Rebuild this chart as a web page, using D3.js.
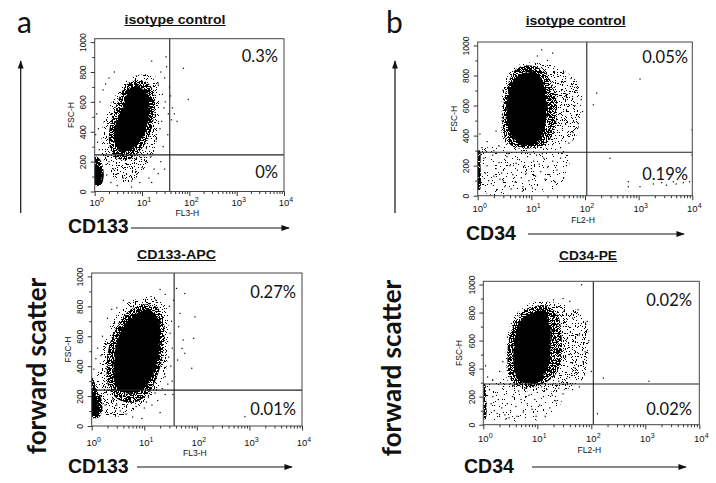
<!DOCTYPE html>
<html>
<head>
<meta charset="utf-8">
<script src="https://cdnjs.cloudflare.com/ajax/libs/d3/7.8.5/d3.min.js"></script>
<style>
  body { margin: 0; background: #fff; }
  svg { display: block; }
  text { font-family: "Liberation Sans", Arial, sans-serif; fill: #111; }
</style>
</head>
<body>
<svg id="fig" width="716" height="483"></svg>
<script>
// values: FL channel (log 1..10^4) and FSC-H (0..1023)
var decades = [1, 10, 100, 1000, 10000];
var decadeExp = ["0", "1", "2", "3", "4"];
var logMinor = [2, 3, 4, 5, 6, 7, 8, 9, 20, 30, 40, 50, 60, 70, 80, 90,
    200, 300, 400, 500, 600, 700, 800, 900, 2000, 3000, 4000, 5000, 6000, 7000, 8000, 9000];
var fscTicks = [0, 200, 400, 600, 800, 1000];
var fscMinor = [100, 300, 500, 700, 900];

// a, isotype control (FL3)
var a1Gate = [38.5, 245];
var a1Pct = ["0.3%", "0%"];
var a1Spread = [[8.2,778],[18.5,773],[23.6,684],[23.6,528],[21.8,394],[18.5,282],[13.4,193],[8.2,104],[5.1,59],[3.1,70],[1.9,148],[1.4,260],[1.4,371],[1.6,483],[2.25,595],[3.4,684],[5.1,751]];
var a1Halo = [[6,740],[12,735],[17,680],[19,570],[17,460],[14,360],[10,290],[6.5,230],[4,210],[2.4,250],[2,340],[2.1,440],[2.6,540],[3.3,630],[4.3,700]];
var a1Core = [[5.9,703],[10.5,692],[13.4,648],[14.5,570],[13.4,481],[12.4,414],[10.5,370],[8.2,326],[5.9,281],[4.0,270],[2.9,292],[2.6,348],[2.6,414],[3.1,481],[3.7,548],[4.3,614],[4.9,670]];
var a1Debris = [[1,235],[1.3,215],[1.5,160],[1.55,100],[1.4,50],[1.1,35],[1,40]];
var a1DebrisCore = [[1,170],[1.25,165],[1.4,110],[1.35,65],[1.15,50],[1,55]];
var a1Dots = [[16,873],[32,902],[33,835],[75,825],[95,617],[40,640],[44,560],[48,520],[42,480],[55,470],
  [38,700],[30,760],[25,800],[22,720],[27,650],[29,560],[26,470],[24,420],[20,350],[28,300],
  [35,380],[31,600],[36,520],
  [1.2,420],[1.1,520],[1.3,600],[1.5,680],[1.7,720],[1.15,330],[1.25,280],[1.05,380],[2,760],[2.6,800],
  [2,200],[2.5,150],[3,120],[4,90],[6,70],[8,120],[10,160],[12,200],[15,230],[18,150],[22,120],
  [14,90],[6,30],[3,40],[1.8,110],[9,60],[25,200],[5,180],[7,220],[11,240],[1.7,240],[2.2,60],[16,60],[30,150]];

// b, isotype control (FL2)
var b1Gate = [108, 289];
var b1Pct = ["0.05%", "0.19%"];
var b1Spread = [[7.1,882],[14.5,882],[34,849],[81,727],[81,527],[61,371],[26,338],[12.6,305],[4.6,305],[3,371],[2.8,549],[3,727],[4.3,838]];
var b1Halo = [[5.5,850],[12,860],[20,800],[28,680],[30,540],[26,420],[18,340],[10,315],[5,320],[3.3,380],[2.9,500],[3.1,640],[3.8,760]];
var b1Core = [[6.1,805],[10.9,827],[15.6,771],[18.8,660],[19.3,549],[17.2,438],[13.5,360],[8.8,331],[5.7,345],[4.1,405],[3.47,505],[3.47,616],[3.89,716],[4.6,771]];
var b1Low = [[1,290],[45,290],[50,180],[30,50],[8,25],[1.3,25]];
var b1Debris = [[1,300],[1.1,300],[1.13,200],[1.15,100],[1.1,40],[1,40]];
var b1Dots = [[165,683],[1060,776],[143,605],[9900,438],
  [292,249],[641,93],[641,60],[1060,60],[1880,78],[2690,87],[4430,93],[5000,78],[6800,87],[8900,93],[9900,270],[3300,70],
  [15.6,971],[25,949],[13,930],[20,900],[40,820],[55,780],[70,700],[85,640],[90,560],[75,480],[60,420],[50,350],
  [35,320],[45,660],[1.2,320],[1.5,360],[2,300],[1.1,410],[2.2,430],[2.5,330],[65,600],[38,760],
  [1.3,250],[1.5,200],[1.4,150],[1.6,100],[1.8,80],[2,130],[2.2,180],[2.5,220],[2.8,150],[3,100],
  [3.2,60],[3.5,260],[4,200],[4.5,140],[5,90],[5.5,170],[6,240],[6.5,120],[7,60],[7.5,200],
  [8,150],[8.5,260],[9,100],[10,180],[11,230],[12,130],[13,70],[14,210],[15,160],[17,250],
  [18,110],[20,190],[22,140],[25,230],[28,90],[30,170],[35,250],[40,120],[45,200],[2.3,40],
  [4.2,45],[6.8,30],[1.9,270],[3.7,280],[9.5,275],[12.5,270],[16,280],[2.6,110],[5.2,215],[10.5,50]];

// a, CD133-APC
var a2Gate = [37, 240];
var a2Pct = ["0.27%", "0.01%"];
var a2Spread = [[8.3,853],[17.2,864],[26.6,797],[28.6,597],[26.6,396],[19.9,263],[11.1,174],[6.2,107],[3,62],[1.66,85],[1.24,174],[1.24,307],[1.44,441],[1.79,574],[2.58,708],[4.6,819]];
var a2Halo = [[7,800],[14,810],[22,750],[24,600],[22,450],[17,320],[12,220],[7,160],[3.5,170],[2.2,240],[1.9,380],[2.1,520],[2.8,650],[4.2,740]];
var a2Core = [[7.2,753],[12.8,775],[18.5,719],[19.9,597],[18.5,463],[14.9,352],[10.3,263],[6.2,218],[3.7,229],[2.77,285],[2.58,396],[2.77,508],[3.45,619],[4.6,697]];
var a2Debris = [[1,330],[1.1,310],[1.25,240],[1.5,190],[1.6,120],[1.45,65],[1.15,50],[1,60]];
var a2DebrisCore = [[1,220],[1.2,210],[1.35,150],[1.35,90],[1.15,70],[1,75]];
var a2Dots = [[41,920],[59,886],[48,753],[92,730],[45,664],[55,575],[87,586],[59,486],[80,386],[43,441],[52,519],
  [20,913],[16.5,842],[25,880],[30,800],[33,700],[31,620],[34,520],[29,460],[32,400],[25,330],[28,280],
  [35,210],[36,840],[34,300],
  [820,62],
  [2,240],[2.5,180],[3,140],[3.5,100],[4,200],[5,160],[6,60],[7,130],[8,180],[10,120],[12,200],[14,140],
  [16,220],[20,90],[25,210],[1.8,140],[4.5,80],[9,50],[11,160],[13,235],[18,170],[22,250],
  [1.3,520],[1.6,600],[2,720],[2.4,780],[1.2,450],[3,790],[1.1,380],[4,840],[1.5,470]];

// b, CD34-PE
var b2Gate = [109, 290];
var b2Pct = ["0.02%", "0.02%"];
var b2Spread = [[9.7,880],[22.8,868],[46.5,832],[82,713],[88,500],[71,333],[40,262],[19.8,238],[6.4,238],[3.1,274],[2.7,404],[2.7,595],[3.6,761],[5.9,844]];
var b2Halo = [[7.5,840],[15,850],[24,780],[28,640],[28,480],[22,360],[14,300],[8,270],[4.2,280],[3,350],[2.8,480],[3,620],[4,740],[5.5,810]];
var b2Core = [[7.9,797],[12.9,820],[16.7,737],[17.7,595],[16.7,452],[13.9,357],[9.7,297],[6.4,290],[4.5,321],[3.7,404],[3.6,523],[3.9,642],[4.8,725],[5.9,773]];
var b2Low = [[1,290],[25,290],[28,160],[12,40],[2,30],[1,40]];
var b2Debris = [[1,290],[1.08,290],[1.12,200],[1.15,100],[1.1,40],[1,40]];
var b2Dots = [[167,333],[1170,310],[130,78],
  [66,999],[57,820],[84,737],[77,520],[50,404],[40,880],[30,900],[60,640],[45,760],[90,600],[70,450],
  [35,330],[25,310],[20,890],[100,380],[1.2,340],[1.5,320],[2,380],[2.3,450],[1.1,420],
  [1.3,250],[1.5,200],[1.4,150],[1.6,100],[1.8,80],[2,60],[2.2,120],[2.5,70],[2.8,150],[3,50],
  [3.2,100],[3.5,200],[4,130],[4.5,240],[5,180],[5.5,90],[6,260],[6.5,150],[7,210],[8,110],
  [8.5,270],[9,180],[10,230],[11,140],[12,270],[13,200],[15,250],[17,120],[19,210],[22,170],
  [25,260],[2.6,40],[4.2,60],[1.9,180],[3.7,280],[14,60],[30,220],[45,250],[60,270],[9.5,60]];

var panels = [
  {id: "a1", left: 94.7, right: 284, top: 38.7, bottom: 191.5,
   title: "isotype control", titleX: 175, titleY: 23.5, titleW: 101,
   fl: "FL3-H", tickBase: 206, flBase: 216, gate: a1Gate, pct: a1Pct, pctX: 278, pctY: [61.5, 178],
   layers: [[a1Spread, "lo"], [a1Halo, "mid"], [a1Core, "solid"], [a1Debris, "hi"], [a1DebrisCore, "solid"]],
   dots: a1Dots},
  {id: "b1", left: 477.7, right: 692.3, top: 42, bottom: 195.7,
   title: "isotype control", titleX: 575.7, titleY: 24.5, titleW: 100,
   fl: "FL2-H", tickBase: 212, flBase: 223, gate: b1Gate, pct: b1Pct, pctX: 688, pctY: [63, 180],
   layers: [[b1Low, "vlo"], [b1Spread, "lo"], [b1Halo, "mid"], [b1Core, "solid"], [b1Debris, "hi"]],
   dots: b1Dots},
  {id: "a2", left: 91.7, right: 302, top: 273, bottom: 426,
   title: "CD133-APC", titleX: 176.5, titleY: 258.5, titleW: 79,
   fl: "FL3-H", tickBase: 446, flBase: 456, gate: a2Gate, pct: a2Pct, pctX: 296, pctY: [298, 415],
   layers: [[a2Spread, "lo"], [a2Halo, "mid"], [a2Core, "solid"], [a2Debris, "hi"], [a2DebrisCore, "solid"]],
   dots: a2Dots},
  {id: "b2", left: 483.3, right: 699.3, top: 281.3, bottom: 424.7,
   title: "CD34-PE", titleX: 588, titleY: 259.5, titleW: 58,
   fl: "FL2-H", tickBase: 442, flBase: 453, gate: b2Gate, pct: b2Pct, pctX: 692, pctY: [306, 415],
   layers: [[b2Low, "vlo"], [b2Spread, "lo"], [b2Halo, "mid"], [b2Core, "solid"], [b2Debris, "hi"]],
   dots: b2Dots}
];

var svg = d3.select("#fig");
var defs = svg.append("defs");

// arrow head
defs.append("marker").attr("id", "head")
    .attr("viewBox", "0 0 10 10").attr("refX", 9).attr("refY", 5)
    .attr("markerWidth", 7).attr("markerHeight", 7).attr("orient", "auto")
  .append("path").attr("d", "M0,1.5L10,5L0,8.5Z").attr("fill", "#111");

// speckle textures for the dot clouds
function makeSpeckle(id, threshold) {
    var f = defs.append("filter").attr("id", id)
        .attr("filterUnits", "userSpaceOnUse")
        .attr("x", 0).attr("y", 0).attr("width", 716).attr("height", 483)
        .attr("color-interpolation-filters", "sRGB");
    f.append("feTurbulence").attr("type", "fractalNoise")
        .attr("baseFrequency", 0.9).attr("numOctaves", 2).attr("seed", 4).attr("result", "noise");
    f.append("feColorMatrix").attr("in", "noise").attr("type", "matrix")
        .attr("values", "0 0 0 0 0  0 0 0 0 0  0 0 0 0 0  1 0 0 0 0").attr("result", "a");
    var table = d3.range(50).map(function(i) { return i / 50 >= threshold ? 1 : 0; }).join(" ");
    f.append("feComponentTransfer").attr("in", "a").attr("result", "m")
        .append("feFuncA").attr("type", "discrete").attr("tableValues", table);
    f.append("feComposite").attr("in", "m").attr("in2", "SourceGraphic").attr("operator", "in");
}
makeSpeckle("vlo", 0.69);
makeSpeckle("lo", 0.62);
makeSpeckle("mid", 0.46);
makeSpeckle("hi", 0.40);

// ragged edge for the solid cores
var rough = defs.append("filter").attr("id", "rough")
    .attr("x", "-10%").attr("y", "-10%").attr("width", "120%").attr("height", "120%");
rough.append("feTurbulence").attr("type", "fractalNoise")
    .attr("baseFrequency", 0.35).attr("numOctaves", 2).attr("seed", 9).attr("result", "t");
rough.append("feDisplacementMap").attr("in", "SourceGraphic").attr("in2", "t")
    .attr("scale", 5).attr("xChannelSelector", "R").attr("yChannelSelector", "G");

function drawPanel(p) {
    var x = d3.scaleLog().domain([1, 10000]).range([p.left, p.right]);
    var y = d3.scaleLinear().domain([0, 1023]).range([p.bottom, p.top]);
    var g = svg.append("g").attr("class", "panel " + p.id);

    defs.append("clipPath").attr("id", "clip-" + p.id)
      .append("rect").attr("x", p.left).attr("y", p.top)
        .attr("width", p.right - p.left).attr("height", p.bottom - p.top);

    var plot = g.append("g").attr("clip-path", "url(#clip-" + p.id + ")");

    var blob = d3.line()
        .x(function(d) { return x(d[0]); })
        .y(function(d) { return y(d[1]); })
        .curve(d3.curveCatmullRomClosed);

    p.layers.forEach(function(l) {
        var path = plot.append("path").attr("d", blob(l[0])).attr("fill", "#000");
        path.attr("filter", l[1] == "solid" ? "url(#rough)" : "url(#" + l[1] + ")");
    });

    plot.selectAll("rect.dot")
        .data(p.dots)
        .join("rect")
        .attr("class", "dot")
        .attr("x", function(d) { return x(d[0]) - 0.6; })
        .attr("y", function(d) { return y(d[1]) - 0.6; })
        .attr("width", 1.2).attr("height", 1.2)
        .attr("fill", "#000");

    // quadrant gate
    g.append("line")
        .attr("x1", x(p.gate[0])).attr("x2", x(p.gate[0]))
        .attr("y1", p.top).attr("y2", p.bottom)
        .attr("stroke", "#222").attr("stroke-width", 1.1);
    g.append("line")
        .attr("x1", p.left).attr("x2", p.right)
        .attr("y1", y(p.gate[1])).attr("y2", y(p.gate[1]))
        .attr("stroke", "#222").attr("stroke-width", 1.1);

    g.append("rect")
        .attr("x", p.left).attr("y", p.top)
        .attr("width", p.right - p.left).attr("height", p.bottom - p.top)
        .attr("fill", "none").attr("stroke", "#444").attr("stroke-width", 1);

    // y axis
    var yAxis = g.append("g").attr("transform", "translate(" + p.left + ",0)")
        .call(d3.axisLeft(y).tickValues(fscTicks).tickSize(4).tickPadding(0).tickFormat(d3.format("d")));
    yAxis.select(".domain").remove();
    yAxis.selectAll("line").attr("stroke", "#333");
    yAxis.selectAll("text")
        .attr("transform", "rotate(-90)")
        .attr("x", 0).attr("y", -8.5).attr("dy", null)
        .attr("text-anchor", "middle")
        .style("font-size", "8.5px").style("font-family", "Liberation Sans, Arial, sans-serif");
    var yMinor = g.append("g").attr("transform", "translate(" + p.left + ",0)")
        .call(d3.axisLeft(y).tickValues(fscMinor).tickSize(2.5).tickFormat(""));
    yMinor.select(".domain").remove();
    yMinor.selectAll("line").attr("stroke", "#333");

    g.append("text")
        .attr("transform", "translate(" + (p.left - 21) + "," + ((p.top + p.bottom) / 2) + ") rotate(-90)")
        .attr("text-anchor", "middle")
        .style("font-size", "8.5px")
        .text("FSC-H");

    // x axis (log)
    var xAxis = g.append("g").attr("transform", "translate(0," + p.bottom + ")")
        .call(d3.axisBottom(x).tickValues(decades).tickSize(4.5).tickFormat(""));
    xAxis.select(".domain").remove();
    xAxis.selectAll("line").attr("stroke", "#333");
    var xMinor = g.append("g").attr("transform", "translate(0," + p.bottom + ")")
        .call(d3.axisBottom(x).tickValues(logMinor).tickSize(2.5).tickFormat(""));
    xMinor.select(".domain").remove();
    xMinor.selectAll("line").attr("stroke", "#333");

    var lab = g.selectAll("text.dec")
        .data(decades)
        .join("text")
        .attr("class", "dec")
        .attr("x", function(d) { return x(d) + 2; })
        .attr("y", p.tickBase)
        .attr("text-anchor", "middle")
        .style("font-size", "9.5px");
    lab.append("tspan").text("10");
    lab.append("tspan").attr("dy", -4).style("font-size", "7px")
        .text(function(d, i) { return decadeExp[i]; });

    g.append("text")
        .attr("x", (p.left + p.right) / 2 - 2).attr("y", p.flBase)
        .attr("text-anchor", "middle")
        .style("font-size", "8.5px")
        .text(p.fl);

    // title
    g.append("text")
        .attr("x", p.titleX).attr("y", p.titleY)
        .attr("text-anchor", "middle")
        .attr("textLength", p.titleW).attr("lengthAdjust", "spacingAndGlyphs")
        .style("font-size", "12px").style("font-weight", "bold")
        .text(p.title);
    g.append("line")
        .attr("x1", p.titleX - p.titleW / 2).attr("x2", p.titleX + p.titleW / 2)
        .attr("y1", p.titleY + 2).attr("y2", p.titleY + 2)
        .attr("stroke", "#111").attr("stroke-width", 1);

    // quadrant percentages
    g.selectAll("text.pct")
        .data(p.pct)
        .join("text")
        .attr("class", "pct")
        .attr("x", p.pctX)
        .attr("y", function(d, i) { return p.pctY[i]; })
        .attr("text-anchor", "end")
        .style("font-family", "Lato, 'Open Sans', sans-serif")
        .style("font-size", "16.5px")
        .text(function(d) { return d; });
}

panels.forEach(drawPanel);

// letters, side labels and arrows
var sideText = [
  {t: "a", x: 17, y: 33, size: 30},
  {t: "b", x: 386, y: 33, size: 30}
];
svg.selectAll("text.letter")
    .data(sideText)
    .join("text")
    .attr("class", "letter")
    .attr("x", function(d) { return d.x; })
    .attr("y", function(d) { return d.y; })
    .style("font-family", "Lato, sans-serif")
    .style("font-size", function(d) { return d.size + "px"; })
    .text(function(d) { return d.t; });

[[20.7, 213, 20.7, 61], [395, 213, 395, 61]].forEach(function(a) {
    svg.append("line").attr("x1", a[0]).attr("y1", a[1]).attr("x2", a[2]).attr("y2", a[3])
        .attr("stroke", "#111").attr("stroke-width", 1.2).attr("marker-end", "url(#head)");
});

[[46, 366], [401, 368]].forEach(function(c) {
    svg.append("text")
        .attr("transform", "translate(" + c[0] + "," + c[1] + ") rotate(-90)")
        .attr("text-anchor", "middle")
        .style("font-family", "Lato, sans-serif").style("font-weight", "bold")
        .style("font-size", "26px")
        .text("forward scatter");
});

var markers = [
  {t: "CD133", x: 68, y: 233, ax1: 131, ax2: 289, ay: 228},
  {t: "CD34", x: 466, y: 240, ax1: 528, ax2: 684, ay: 234},
  {t: "CD133", x: 68, y: 473, ax1: 137, ax2: 292, ay: 467},
  {t: "CD34", x: 464, y: 473, ax1: 532, ax2: 686, ay: 467}
];
markers.forEach(function(m) {
    svg.append("text").attr("x", m.x).attr("y", m.y)
        .style("font-size", "19.5px").style("font-weight", "bold")
        .text(m.t);
    svg.append("line").attr("x1", m.ax1).attr("y1", m.ay).attr("x2", m.ax2).attr("y2", m.ay)
        .attr("stroke", "#111").attr("stroke-width", 1.2).attr("marker-end", "url(#head)");
});
</script>
</body>
</html>
